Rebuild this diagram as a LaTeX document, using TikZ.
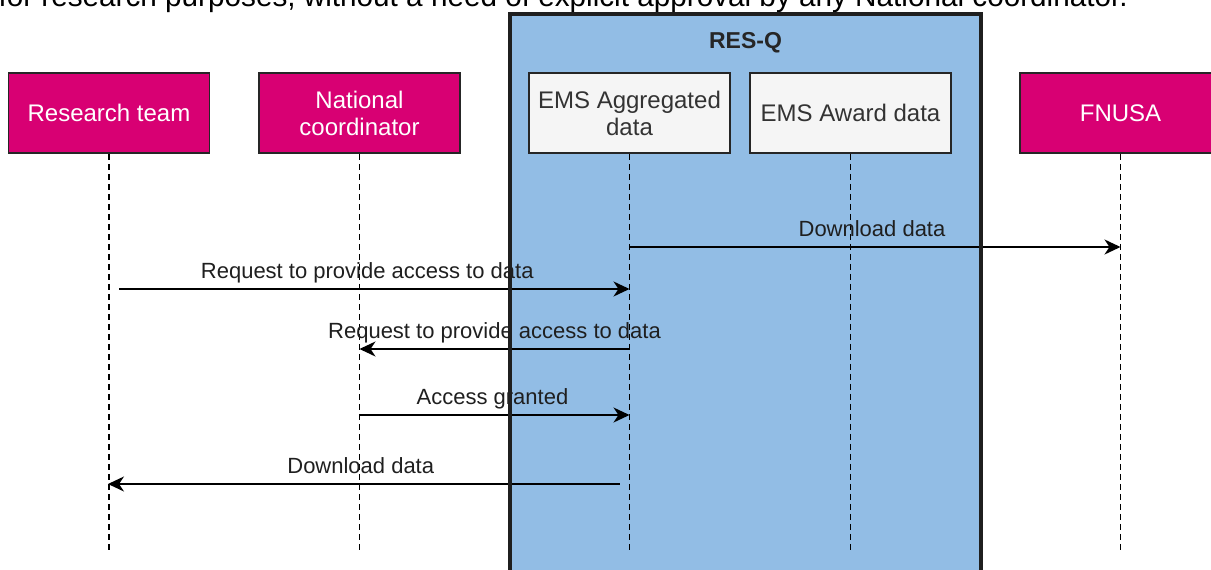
\documentclass[tikz,border=0pt]{standalone}
\usepackage{fontspec}
\setmainfont{Liberation Sans}
\usetikzlibrary{arrows.meta}
\definecolor{actor}{HTML}{D80073}
\definecolor{resq}{HTML}{92BDE5}
\definecolor{store}{HTML}{F5F5F5}
\definecolor{storetext}{HTML}{333333}
\begin{document}
\begin{tikzpicture}[x=1pt,y=-1pt,
  actorbox/.style={draw=black!85, line width=1.5pt, fill=actor, text=white,
    minimum width=201pt, minimum height=80pt, inner sep=0pt, align=center,
    font=\fontsize{24}{27}\selectfont},
  storebox/.style={draw=black!85, line width=1.5pt, fill=store, text=storetext,
    minimum width=201pt, minimum height=80pt, inner sep=0pt, align=center,
    font=\fontsize{24}{27}\selectfont},
  lifeline/.style={black, line width=1.9pt, dash pattern=on 6pt off 4pt},
  msg/.style={black, line width=1.9pt, -{Stealth[length=16pt,width=15pt,inset=5pt]}},
  msglabel/.style={midway, anchor=base, yshift=11pt, inner sep=0pt,
    text=black!88, font=\fontsize{22}{26}\selectfont}
]
\useasboundingbox (0,0) rectangle (1211,570);
\clip (0,0) rectangle (1211,570);

% system container (fill behind everything, border drawn last)
\fill[resq] (510,14) rectangle (981,600);

% caption line above the diagram
\node[anchor=base east, inner sep=0pt, font=\fontsize{29.7}{32}\selectfont] (note)
  at (1128,6) {for research purposes, without a need of explicit approval by any National coordinator.};

% participants
\node[actorbox] (rt) at (109,113) {Research team};
\node[actorbox] (nc) at (359.5,113) {National\\coordinator};
\node[storebox] (agg) at (629.5,113) {EMS Aggregated\\data};
\node[storebox] (award) at (850.5,113) {EMS Award data};
\node[actorbox] (fn) at (1120.5,113) {FNUSA};

% lifelines
\coordinate (bottom) at (0,553);
\coordinate (rtend) at (rt.south |- bottom);
\coordinate (ncend) at (nc.south |- bottom);
\coordinate (aggend) at (agg.south |- bottom);
\coordinate (awardend) at (award.south |- bottom);
\coordinate (fnend) at (fn.south |- bottom);
\draw[lifeline] (rt.south) -- (rtend);
\draw[lifeline] (nc.south) -- (ncend);
\draw[lifeline] (agg.south) -- (aggend);
\draw[lifeline] (award.south) -- (awardend);
\draw[lifeline] (fn.south) -- (fnend);

% message rows
\coordinate (r1) at (0,247);
\coordinate (r2) at (0,289);
\coordinate (r3) at (0,349);
\coordinate (r4) at (0,415);
\coordinate (r5) at (0,484);

\coordinate (m1s) at (agg |- r1);
\coordinate (m1e) at (fn |- r1);
\coordinate (m2s) at ([xshift=10pt]rt |- r2);
\coordinate (m2e) at (agg |- r2);
\coordinate (m3s) at (agg |- r3);
\coordinate (m3e) at (nc |- r3);
\coordinate (m4s) at (nc |- r4);
\coordinate (m4e) at (agg |- r4);
\coordinate (m5s) at ([xshift=-10pt]agg |- r5);
\coordinate (m5e) at ([xshift=-1pt]rt |- r5);

\draw[msg] (m1s) -- node[msglabel, xshift=-3pt] {Download data} (m1e);
\draw[msg] (m2s) -- node[msglabel, xshift=-7pt] {Request to provide access to data} (m2e);
\draw[msg] (m3s) -- node[msglabel] {Request to provide access to data} (m3e);
\draw[msg] (m4s) -- node[msglabel, xshift=-2pt] {Access granted} (m4e);
\draw[msg] (m5s) -- node[msglabel, xshift=-3pt] {Download data} (m5e);

% container border and title
\draw[black!88, line width=3.5pt] (510,14) rectangle (981,600);
\node[anchor=base, inner sep=0pt, font=\fontsize{23}{26}\selectfont\bfseries, text=black!85]
  (resqtitle) at (745.5,48) {RES-Q};
\end{tikzpicture}
\end{document}
